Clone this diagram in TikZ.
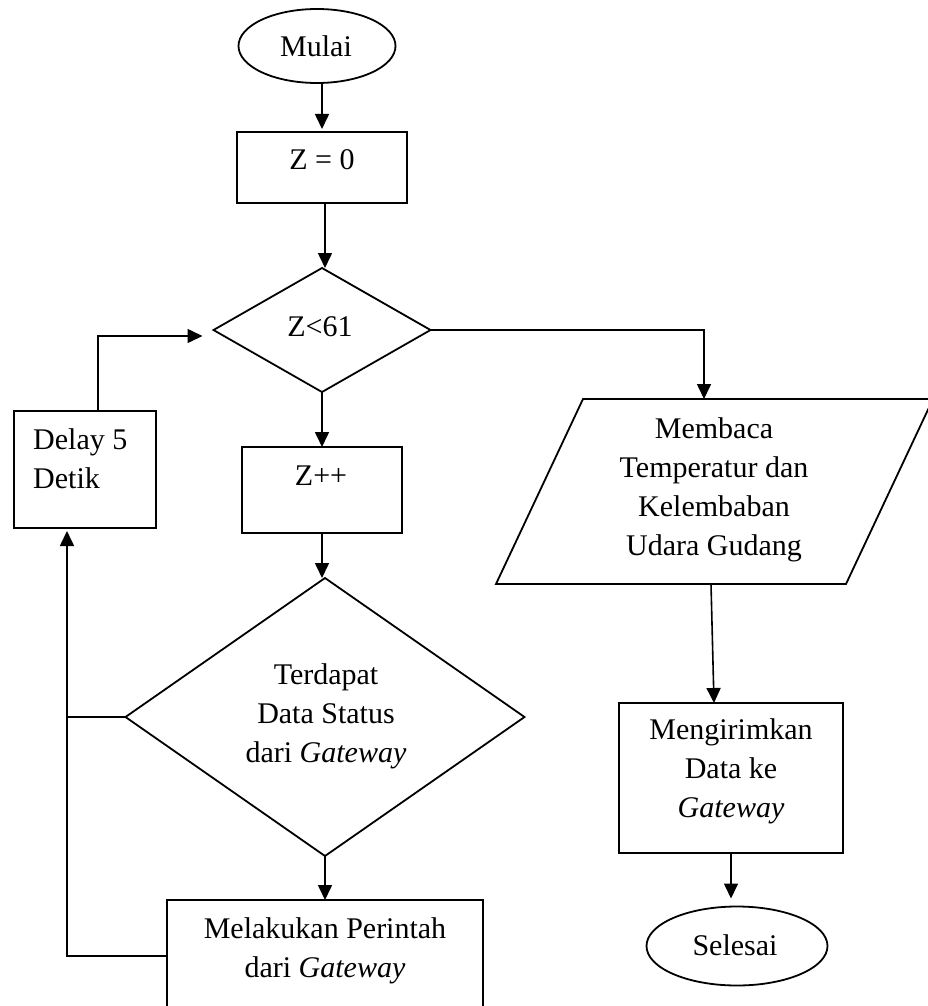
\documentclass[tikz,border=0pt]{standalone}
\usepackage{fontspec}
\setmainfont{Liberation Serif}
\usetikzlibrary{arrows.meta,shapes.geometric}
\begin{document}
\begin{tikzpicture}[x=1pt,y=-1pt,
  outline/.style={draw, line width=1.8pt, inner sep=0pt, outer sep=0pt},
  box/.style={outline, rectangle},
  term/.style={outline, ellipse},
  dec/.style={outline, diamond},
  lbl/.style={font=\fontsize{30pt}{39pt}\selectfont, inner sep=0pt, anchor=base, align=center},
  conn/.style={line width=1.6pt},
  arr/.style={conn, -{Triangle[length=15pt,width=14pt]}},
]
\useasboundingbox (0,0) rectangle (928,1006);

% shapes
\node[term, minimum width=157pt, minimum height=74pt] (start) at (317,46) {};
\node[box, minimum width=170pt, minimum height=71pt] (z0) at (322,167.5) {};
\node[dec, minimum width=217pt, minimum height=124pt] (dz) at (322,330) {};
\node[box, minimum width=160pt, minimum height=86pt] (zpp) at (322,490) {};
\node[box, minimum width=142pt, minimum height=117pt] (delay) at (85,469.5) {};
\node[dec, minimum width=399pt, minimum height=278pt] (dt) at (325,717) {};
\node[box, minimum width=316pt, minimum height=115pt] (mel) at (325,957.5) {};
\draw[line width=1.8pt] (583,399) -- (933,399) -- (846,584) -- (496,584) -- cycle;
\coordinate (readtop) at (704,399);
\coordinate (readbot) at (711,584);
\node[box, minimum width=224pt, minimum height=150pt] (send) at (731,778) {};
\node[term, minimum width=181pt, minimum height=79pt] (stop) at (737,946) {};

% texts
\node[lbl] (startT) at (316,57) {Mulai};
\node[lbl] (z0T) at (322,169) {Z = 0};
\node[lbl] (dzT) at (320,336) {Z<61};
\node[lbl] (zppT) at (321,485) {Z++};
\node[lbl, anchor=base west, align=left] (delayT) at (33,488) {Delay 5\\Detik};
\node[lbl] (dtT) at (326,762) {Terdapat\\Data Status\\dari \textit{Gateway}};
\node[lbl] (melT) at (325,977) {Melakukan Perintah\\dari \textit{Gateway}};
\node[lbl] (readT) at (714,555) {Membaca\\Temperatur dan\\Kelembaban\\Udara Gudang};
\node[lbl] (sendT) at (731,817) {Mengirimkan\\Data ke\\\textit{Gateway}};
\node[lbl] (stopT) at (735,955) {Selesai};

% connectors
\draw[arr, shorten >=3pt] (start.south -| z0.north) -- (z0.north);
\draw[arr] ([xshift=3pt]z0.south) -- ([xshift=3pt]z0.south |- dz.north);
\draw[arr] (dz.east) -| (readtop);
\draw[arr] (dz.south) -- (dz.south |- zpp.north);
\draw[arr] (zpp.south) -- (zpp.south |- dt.north);
\draw[arr] (dt.south) -- (mel.north);
\draw[arr] (readbot) -- ([xshift=-17pt]send.north);
\draw[arr, shorten >=8pt] (send.south) -- (send.south |- stop.north);
\coordinate (lb) at (67,956);
\coordinate (lt) at (98,336);
\draw[conn] (dt.west) -- (dt.west -| lb);
\draw[arr, shorten >=3pt] (mel.west |- lb) -- (lb) -- (lb |- delay.south);
\draw[arr, shorten >=11pt] (lt |- delay.north) -- (lt) -- (lt -| dz.west);
\end{tikzpicture}
\end{document}
